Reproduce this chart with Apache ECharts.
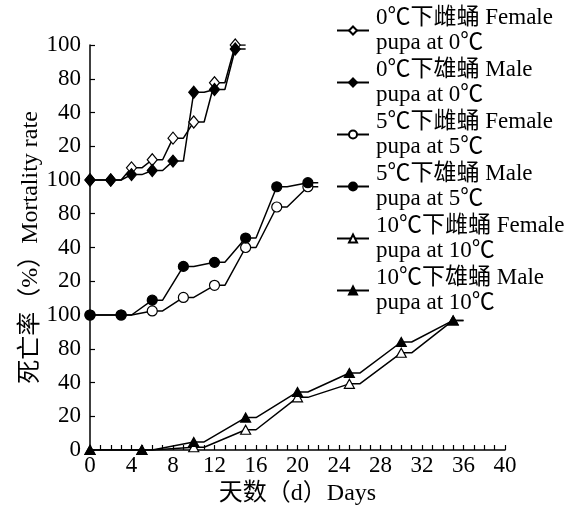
<!DOCTYPE html>
<html><head><meta charset="utf-8">
<script src="https://cdn.jsdelivr.net/npm/echarts@6/dist/echarts.min.js"></script>
<style>html,body{margin:0;padding:0;background:#fff}#c{width:584px;height:511px}</style>
</head><body><div id="c"></div>
<script>
// 0 ℃ panel (top)
const days0 = [0, 2, 4, 6, 8, 10, 12, 14];
const female0 = [0, 0, 9, 15, 31, 43, 72, 100];
const male0 = [0, 0, 4, 7, 14, 65, 67, 97];
// 5 ℃ panel (middle)
const days5 = [0, 3, 6, 9, 12, 15, 18, 21];
const female5 = [0, 0, 3, 13, 22, 50, 80, 95];
const male5 = [0, 0, 11, 36, 39, 57, 95, 98];
// 10 ℃ panel (bottom)
const days10 = [0, 5, 10, 15, 20, 25, 30, 35];
const female10 = [0, 0, 2, 15, 39, 49, 72, 96];
const male10 = [0, 0, 6, 24, 43, 57, 80, 96];

const seriesNames = [
  '0℃下雌蛹 Female\npupa at 0℃',
  '0℃下雄蛹 Male\npupa at 0℃',
  '5℃下雌蛹 Female\npupa at 5℃',
  '5℃下雄蛹 Male\npupa at 5℃',
  '10℃下雌蛹 Female\npupa at 10℃',
  '10℃下雄蛹 Male\npupa at 10℃'
];
// tick labels printed at 0, 1/4, 2/4, 3/4 and 4/4 of each panel
const yTickLabels = ['0', '20', '40', '80', '100'];
const xTitle = '天数（d）Days';
const yTitle = '死亡率（%）Mortality rate';

const FONT = '"Liberation Serif", "Times New Roman", "Noto Sans CJK SC", serif';
const PANEL = 100;

function build(days, vals, offset) {
  const out = [];
  days.forEach((d, i) => {
    out.push({ value: [d, vals[i] + offset] });
    out.push({ value: [d + 1, vals[i] + offset], symbol: 'none' });
  });
  return out;
}

function mk(name, days, vals, offset, symbol, size, filled) {
  return {
    name, type: 'line', data: build(days, vals, offset),
    symbol, symbolSize: size,
    color: '#000',
    lineStyle: { color: '#000', width: 1.5 },
    itemStyle: { color: filled ? '#000' : '#fff', borderColor: '#000', borderWidth: 1.2 },
    emphasis: { disabled: true },
    animation: false
  };
}

const chart = echarts.init(document.getElementById('c'), null, { renderer: 'canvas' });
chart.setOption({
  backgroundColor: '#fff',
  animation: false,
  grid: { left: 90, right: 79, top: 45, bottom: 61, containLabel: false },
  legend: {
    orient: 'vertical', left: 331, top: -12,
    itemWidth: 32, itemHeight: 10, itemGap: -23,
    data: seriesNames,
    textStyle: { fontFamily: FONT, fontSize: 23, lineHeight: 25, color: '#000', padding: [25, 0, 0, 2] }
  },
  xAxis: {
    type: 'value', min: 0, max: 40, interval: 4,
    name: xTitle, nameLocation: 'middle', nameGap: 32,
    nameTextStyle: { fontFamily: FONT, fontSize: 24, color: '#000' },
    axisLine: { lineStyle: { color: '#000', width: 1.5 } },
    axisTick: { inside: true, length: 5, lineStyle: { color: '#000', width: 1.2 } },
    minorTick: { show: true, splitNumber: 4, length: 5, lineStyle: { color: '#000', width: 1.2 } },
    axisLabel: { fontFamily: FONT, fontSize: 23, color: '#000', margin: 4 },
    splitLine: { show: false }
  },
  yAxis: {
    type: 'value', min: 0, max: 3 * PANEL, interval: PANEL / 4,
    name: yTitle, nameLocation: 'middle', nameGap: 47, nameMoveOverlap: false,
    nameTextStyle: { fontFamily: FONT, fontSize: 24, color: '#000' },
    axisLine: { show: true, lineStyle: { color: '#000', width: 1.5 } },
    axisTick: { show: true, inside: true, length: 5, lineStyle: { color: '#000', width: 1.2 } },
    axisLabel: {
      fontFamily: FONT, fontSize: 23, color: '#000', margin: 9,
      formatter: v => {
        if (v === 0) return yTickLabels[0];
        const r = v % PANEL;
        return r === 0 ? yTickLabels[4] : yTickLabels[Math.round(r / (PANEL / 4))];
      }
    },
    splitLine: { show: false }
  },
  series: [
    mk(seriesNames[0], days0, female0, 2 * PANEL, 'diamond', [10, 12], false),
    mk(seriesNames[1], days0, male0, 2 * PANEL, 'diamond', [10, 12], true),
    mk(seriesNames[2], days5, female5, PANEL, 'circle', 10, false),
    mk(seriesNames[3], days5, male5, PANEL, 'circle', 10, true),
    mk(seriesNames[4], days10, female10, 0, 'triangle', [10, 9], false),
    mk(seriesNames[5], days10, male10, 0, 'triangle', [10, 9], true)
  ]
});
</script></body></html>
